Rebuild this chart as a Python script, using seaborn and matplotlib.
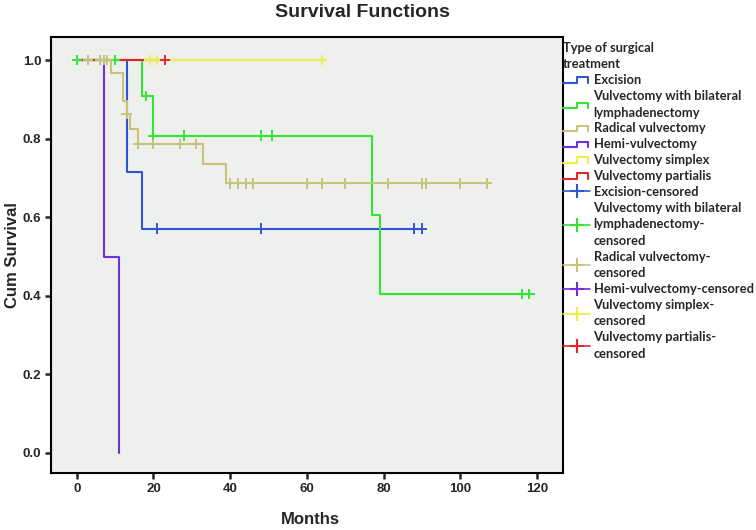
import seaborn as sns
import matplotlib
matplotlib.use("Agg")
import matplotlib.pyplot as plt
from matplotlib.lines import Line2D
from matplotlib.legend_handler import HandlerBase
import pandas as pd

# groups in SPSS order (last one ends up on top)
groups = ["Excision", "Vulvectomy with bilateral\nlymphadenectomy", "Radical vulvectomy",
          "Hemi-vulvectomy", "Vulvectomy simplex", "Vulvectomy partialis"]
cens_labels = ["Excision-censored", "Vulvectomy with bilateral\nlymphadenectomy-\ncensored",
               "Radical vulvectomy-\ncensored", "Hemi-vulvectomy-censored",
               "Vulvectomy simplex-\ncensored", "Vulvectomy partialis-\ncensored"]
colors = ["#2f55d4", "#33e533", "#c8c27a", "#6f2ee0", "#eeee4a", "#e8232c"]

# step curves: time of each step (last = end of follow-up) and survival after it
excision_t = [0, 13, 17, 90]
excision_s = [1.0, 0.714, 0.571, 0.571]
bilat_t = [0, 17, 20, 77, 79, 118]
bilat_s = [1.0, 0.909, 0.808, 0.606, 0.404, 0.404]
radical_t = [0, 9, 12, 13, 14, 16, 33, 39, 107]
radical_s = [1.0, 0.966, 0.897, 0.862, 0.825, 0.786, 0.735, 0.686, 0.686]
hemi_t = [0, 7, 11]
hemi_s = [1.0, 0.5, 0.0]
simplex_t = [0, 64]
simplex_s = [1.0, 1.0]
partialis_t = [0, 23]
partialis_s = [1.0, 1.0]

# censored observations
excision_ct = [21, 48, 88, 90]
excision_cs = [0.571, 0.571, 0.571, 0.571]
bilat_ct = [0, 10, 18, 20, 28, 48, 51, 116, 118]
bilat_cs = [1.0, 1.0, 0.909, 0.808, 0.808, 0.808, 0.808, 0.404, 0.404]
radical_ct = [3, 6, 7, 8, 13, 16, 20, 27, 31, 40, 42, 44, 46, 60, 64, 70, 81, 90, 91, 100, 107]
radical_cs = [1.0, 1.0, 1.0, 1.0, 0.862, 0.786, 0.786, 0.786, 0.786] + [0.686] * 12
hemi_ct = []
hemi_cs = []
simplex_ct = [19, 21, 64]
simplex_cs = [1.0, 1.0, 1.0]
partialis_ct = [23]
partialis_cs = [1.0]

steps_t = [excision_t, bilat_t, radical_t, hemi_t, simplex_t, partialis_t]
steps_s = [excision_s, bilat_s, radical_s, hemi_s, simplex_s, partialis_s]
cens_t = [excision_ct, bilat_ct, radical_ct, hemi_ct, simplex_ct, partialis_ct]
cens_s = [excision_cs, bilat_cs, radical_cs, hemi_cs, simplex_cs, partialis_cs]

rows = []
for g, ts, ss in zip(groups, steps_t, steps_s):
    for t, s in zip(ts, ss):
        rows.append({"Months": t, "Cum Survival": s, "group": g})
steps = pd.DataFrame(rows)

rows = []
for g, ts, ss in zip(groups, cens_t, cens_s):
    for t, s in zip(ts, ss):
        rows.append({"Months": t, "Cum Survival": s, "group": g})
cens = pd.DataFrame(rows)

sns.set_style("ticks")
plt.rcParams["font.family"] = ["Liberation Sans", "DejaVu Sans"]

fig = plt.figure(figsize=(7.56, 5.30), dpi=100)
ax = fig.add_axes([0.0675, 0.1075, 0.6775, 0.8225])
ax.set_facecolor("#edf0ec")

pal = dict(zip(groups, colors))
sns.lineplot(data=steps, x="Months", y="Cum Survival", hue="group", hue_order=groups,
             palette=pal, estimator=None, sort=False, drawstyle="steps-post",
             linewidth=1.5, legend=False, ax=ax)
sns.scatterplot(data=cens, x="Months", y="Cum Survival", hue="group", hue_order=groups,
                palette=pal, marker="+", s=55, linewidth=1.4, legend=False, zorder=3, ax=ax)

ax.set_xlim(-6.7, 126.8)
ax.set_ylim(-0.051, 1.0585)
ax.set_xticks(range(0, 121, 20))
ax.set_yticks([0.0, 0.2, 0.4, 0.6, 0.8, 1.0])
ax.set_yticklabels(["0.0", "0.2", "0.4", "0.6", "0.8", "1.0"])
ax.tick_params(direction="out", length=4, width=1.8, labelsize=9.5, pad=3)
for lab in ax.get_xticklabels() + ax.get_yticklabels():
    lab.set_fontweight("bold")
for sp in ax.spines.values():
    sp.set_linewidth(1.5)
    sp.set_color("black")

ax.set_xlabel("")
ax.set_ylabel("")
fig.text(310 / 756, 1 - 520 / 530, "Months", ha="center", va="center",
         fontsize=12, fontweight="bold")
fig.text(13 / 756, 1 - 255 / 530, "Cum Survival", ha="center", va="center",
         rotation=90, fontsize=12, fontweight="bold")
fig.text(0.479, 0.977, "Survival Functions", ha="center", va="center",
         fontsize=14, fontweight="bold")


class HandlerStep(HandlerBase):
    def create_artists(self, legend, orig_handle, xdescent, ydescent, width, height,
                       fontsize, trans):
        x0 = -xdescent
        y0 = -ydescent
        xs = [x0, x0 + 0.5 * width, x0 + 0.5 * width, x0 + 0.9 * width, x0 + 0.9 * width]
        ys = [y0 + 0.15 * height, y0 + 0.15 * height, y0 + 0.75 * height,
              y0 + 0.75 * height, y0 + 0.15 * height]
        ln = Line2D(xs, ys, color=orig_handle.get_color(), linewidth=1.5)
        ln.set_transform(trans)
        return [ln]


handles = []
labels = []
hmap = {}
for g, c in zip(groups, colors):
    h = Line2D([], [], color=c)
    handles.append(h)
    labels.append(g)
    hmap[h] = HandlerStep()
for lab, c in zip(cens_labels, colors):
    handles.append(Line2D([], [], color=c, marker="+", markersize=10, markeredgewidth=1.5,
                          linewidth=1.2))
    labels.append(lab)

fs = 9.3
leg = fig.legend(handles, labels, handler_map=hmap, loc="upper left",
                 bbox_to_anchor=(0.745, 0.921), frameon=False,
                 title="Type of surgical\ntreatment",
                 prop={"family": ["Lato", "DejaVu Sans"], "weight": "bold", "size": fs},
                 handlelength=2.1, handletextpad=0.25, labelspacing=0.3,
                 borderaxespad=0, borderpad=0)
for t in leg.get_texts():
    t.set_linespacing(1.45)
leg.get_title().set_fontweight("bold")
leg.get_title().set_family(["Lato", "DejaVu Sans"])
leg.get_title().set_fontsize(fs)
leg.get_title().set_linespacing(1.45)
leg._legend_box.align = "left"

fig.savefig("out.png", dpi=100)
